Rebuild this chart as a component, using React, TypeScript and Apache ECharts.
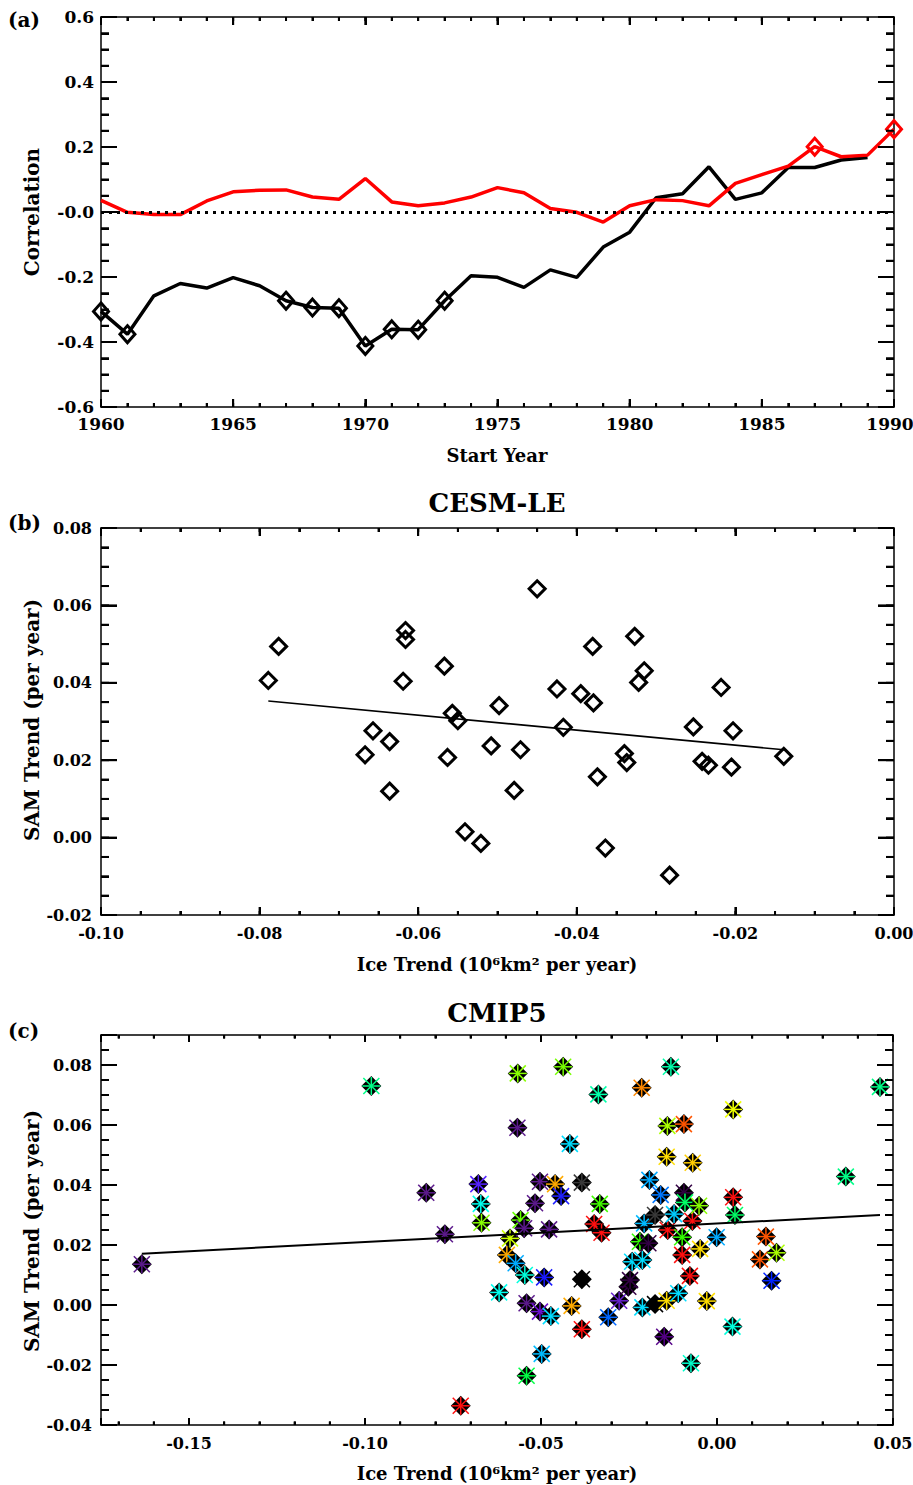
import React, { useEffect, useRef } from 'react';
import * as echarts from 'echarts';

// ---------- Panel (a): correlation vs start year ----------
const blackYears = [1960, 1961, 1962, 1963, 1964, 1965, 1966, 1967, 1968, 1969, 1970, 1971, 1972, 1973, 1974, 1975, 1976, 1977, 1978, 1979, 1980, 1981, 1982, 1983, 1984, 1985, 1986, 1987, 1988, 1989];
const blackCorr = [-0.306, -0.376, -0.258, -0.22, -0.234, -0.202, -0.227, -0.273, -0.294, -0.296, -0.412, -0.361, -0.362, -0.273, -0.196, -0.201, -0.232, -0.178, -0.201, -0.108, -0.062, 0.044, 0.056, 0.139, 0.039, 0.059, 0.137, 0.137, 0.16, 0.168];
const redYears = [1960, 1961, 1962, 1963, 1964, 1965, 1966, 1967, 1968, 1969, 1970, 1971, 1972, 1973, 1974, 1975, 1976, 1977, 1978, 1979, 1980, 1981, 1982, 1983, 1984, 1985, 1986, 1987, 1988, 1989, 1990];
const redCorr = [0.036, -0.001, -0.008, -0.008, 0.034, 0.062, 0.067, 0.068, 0.046, 0.039, 0.103, 0.031, 0.019, 0.028, 0.046, 0.075, 0.059, 0.011, -0.001, -0.031, 0.019, 0.038, 0.035, 0.019, 0.088, 0.115, 0.141, 0.201, 0.17, 0.175, 0.255];
const blackMarkedYears = [1960, 1961, 1967, 1968, 1969, 1970, 1971, 1972, 1973];
const redMarkedYears = [1987, 1990];
const yearTicks = [1960, 1965, 1970, 1975, 1980, 1985, 1990];
const yearTickLabels = ['1960', '1965', '1970', '1975', '1980', '1985', '1990'];
const corrTicks = [-0.6, -0.4, -0.2, 0, 0.2, 0.4, 0.6];
const corrTickLabels = ['-0.6', '-0.4', '-0.2', '-0.0', '0.2', '0.4', '0.6'];

// ---------- Panel (b): CESM-LE ----------
const cesmIce = [-0.0789, -0.0776, -0.0667, -0.0657, -0.0636, -0.0636, -0.0619, -0.0616, -0.0616, -0.0567, -0.0563, -0.0557, -0.055, -0.0541, -0.0521, -0.0508, -0.0498, -0.0479, -0.0471, -0.045, -0.0425, -0.0417, -0.0395, -0.038, -0.0379, -0.0374, -0.0364, -0.034, -0.0337, -0.0327, -0.0322, -0.0315, -0.0283, -0.0253, -0.0242, -0.0234, -0.0218, -0.0205, -0.0203, -0.0139];
const cesmSam = [0.0406, 0.0494, 0.0214, 0.0276, 0.0248, 0.012, 0.0404, 0.0535, 0.0512, 0.0443, 0.0207, 0.0321, 0.0302, 0.0015, -0.0015, 0.0237, 0.0341, 0.0122, 0.0227, 0.0643, 0.0384, 0.0285, 0.0372, 0.0494, 0.0348, 0.0157, -0.0027, 0.0217, 0.0194, 0.052, 0.0401, 0.0431, -0.0097, 0.0286, 0.0197, 0.0187, 0.0388, 0.0182, 0.0276, 0.021];
const cesmFitIce = [-0.0789, -0.0139];
const cesmFitSam = [0.0353, 0.0227];
const cesmIceTicks = [-0.1, -0.08, -0.06, -0.04, -0.02, 0];
const cesmIceTickLabels = ['-0.10', '-0.08', '-0.06', '-0.04', '-0.02', '0.00'];
const cesmSamTicks = [-0.02, 0, 0.02, 0.04, 0.06, 0.08];
const cesmSamTickLabels = ['-0.02', '0.00', '0.02', '0.04', '0.06', '0.08'];

// ---------- Panel (c): CMIP5 ----------
const cmipIce = [-0.1634, -0.0982, -0.0826, -0.0773, -0.0728, -0.0678, -0.0671, -0.0669, -0.0619, -0.0597, -0.0588, -0.0566, -0.0567, -0.0572, -0.0558, -0.0548, -0.0546, -0.0541, -0.0541, -0.0517, -0.0503, -0.0503, -0.0498, -0.0491, -0.0477, -0.0472, -0.046, -0.0443, -0.0437, -0.0418, -0.0413, -0.0384, -0.0384, -0.0384, -0.0349, -0.0337, -0.0333, -0.0328, -0.0309, -0.0278, -0.0252, -0.0247, -0.0241, -0.0214, -0.0207, -0.0219, -0.0212, -0.0212, -0.0195, -0.0192, -0.0176, -0.0176, -0.016, -0.015, -0.014, -0.0143, -0.0141, -0.0143, -0.0131, -0.0122, -0.011, -0.0094, -0.0091, -0.0099, -0.0099, -0.0094, -0.0077, -0.007, -0.0074, -0.0069, -0.0051, -0.0048, -0.0029, -0.0001, 0.0046, 0.0046, 0.0051, 0.0044, 0.0122, 0.0139, 0.0155, 0.0169, 0.0366, 0.0463];
const cmipSam = [0.0136, 0.073, 0.0374, 0.0236, -0.0336, 0.0403, 0.0337, 0.0274, 0.0042, 0.0167, 0.0222, 0.0772, 0.0591, 0.0139, 0.0283, 0.0256, 0.01, 0.0006, -0.0236, 0.0339, 0.0411, -0.0022, -0.0163, 0.0092, 0.0252, -0.0037, 0.0403, 0.0363, 0.0794, 0.0537, -0.0003, 0.0408, 0.0086, -0.0081, 0.027, 0.0702, 0.0337, 0.0241, -0.0041, 0.0014, 0.0061, 0.0083, 0.0144, 0.0724, 0.0272, 0.0211, -0.0008, 0.015, 0.0206, 0.0417, 0.03, 0.0003, 0.0367, -0.0106, 0.025, 0.0494, 0.0597, 0.0014, 0.0794, 0.0303, 0.0039, 0.0374, 0.0342, 0.0226, 0.0167, 0.0603, 0.0097, 0.028, -0.0194, 0.0474, 0.0331, 0.0187, 0.0013, 0.0226, 0.0652, 0.0359, 0.03, -0.0072, 0.0152, 0.0228, 0.0081, 0.0174, 0.0428, 0.0727];
const cmipColor = ['#5c1a8c', '#00ff88', '#5c1a8c', '#5c1a8c', '#ff1010', '#5522ff', '#00ffee', '#88ff00', '#00ffee', '#ffaa00', '#ccff00', '#88ff00', '#5c1a8c', '#00aaff', '#66ff00', '#5c1a8c', '#00ffdd', '#5c1a8c', '#00ff44', '#5c1a8c', '#5c1a8c', '#6a11cc', '#00bbff', '#1a1aff', '#5c1a8c', '#00ddff', '#ffaa00', '#2222ff', '#77ff00', '#00ddff', '#ffaa00', '#3a3a3a', '#000000', '#ff1010', '#ff1010', '#00ffaa', '#44ff00', '#ff1010', '#0066ff', '#6622cc', '#330044', '#330044', '#00ddff', '#ff8800', '#00bbff', '#33ff00', '#00ddff', '#00ddff', '#330044', '#00aaff', '#3a3a3a', '#000000', '#0077ff', '#550088', '#ff1010', '#ffdd00', '#aaff00', '#ffdd00', '#00ffaa', '#00ccff', '#00ddff', '#330044', '#00ff66', '#33ff00', '#ff1010', '#ff5500', '#ff1010', '#ff1010', '#00ffcc', '#ffcc00', '#88ff00', '#ffdd00', '#ffdd00', '#00aaff', '#eeff00', '#ff1010', '#00ff66', '#00ffdd', '#ff5500', '#ff5500', '#0022ff', '#aaff00', '#00ff88', '#00ff88'];
const cmipFitIce = [-0.1634, 0.0463];
const cmipFitSam = [0.0171, 0.03];
const cmipIceTicks = [-0.15, -0.1, -0.05, 0, 0.05];
const cmipIceTickLabels = ['-0.15', '-0.10', '-0.05', '0.00', '0.05'];
const cmipSamTicks = [-0.04, -0.02, 0, 0.02, 0.04, 0.06, 0.08];
const cmipSamTickLabels = ['-0.04', '-0.02', '0.00', '0.02', '0.04', '0.06', '0.08'];

// minor tick spacing per axis
const yearMinorStep = 1;
const corrMinorStep = 0.05;
const cesmIceMinorStep = 0.005;
const cesmSamMinorStep = 0.005;
const cmipIceMinorStep = 0.01;
const cmipSamMinorStep = 0.005;

const FONT = '"DejaVu Serif", "Liberation Serif", serif';
const INK = '#000';
const TW = 2;

function steps(from: number, to: number, step: number) {
  const out: number[] = [];
  const start = Math.ceil(from / step - 1e-9);
  for (let k = start; k * step <= to + 1e-9; k++) out.push(+(k * step).toFixed(6));
  return out;
}

function labelFrom(ticks: number[], labels: string[], lastPad = 0) {
  return (v: number) => {
    const i = ticks.findIndex((t) => Math.abs(t - v) < 1e-7);
    if (i < 0) return '';
    if (lastPad && i === ticks.length - 1) return '{last|' + labels[i] + '}';
    return labels[i];
  };
}

// Axis with native inward ticks.
function axis(o: any) {
  const showLabel = !!o.formatter;
  const a: any = {
    type: 'value',
    gridIndex: o.grid,
    position: o.pos,
    min: o.min,
    max: o.max,
    splitLine: { show: false },
    axisLine: { show: o.line !== false, onZero: false, lineStyle: { color: INK, width: 1.5 } },
    axisTick: o.tickLen ? { show: true, inside: true, length: o.tickLen, lineStyle: { color: INK, width: TW } } : { show: false },
    minorTick: o.minorSplit
      ? { show: true, splitNumber: o.minorSplit, length: o.minorLen, lineStyle: { color: INK, width: TW } }
      : { show: false },
    axisLabel: showLabel
      ? {
          show: true, margin: o.margin, fontFamily: FONT, fontWeight: 'bold', fontSize: o.fontSize, color: '#000',
          formatter: o.formatter,
          rich: { last: { fontFamily: FONT, fontWeight: 'bold', fontSize: o.fontSize, color: '#000', padding: [0, o.lastPad || 0, 0, 0] } },
        }
      : { show: false },
  };
  if (o.interval != null) a.interval = o.interval;
  if (o.minInterval != null) {
    a.minInterval = o.minInterval;
    a.maxInterval = o.maxInterval;
    a.splitNumber = o.splitNumber;
  }
  return a;
}

function text(x: number, y: number, s: string, size: number, align = 'center', rotation = 0) {
  return {
    type: 'text',
    x,
    y,
    rotation,
    style: {
      text: s,
      fontFamily: FONT,
      fontWeight: 'bold',
      fontSize: size,
      fill: '#000',
      align,
      verticalAlign: 'middle',
      textAlign: align,
      textVerticalAlign: 'middle',
    },
  };
}

export default function App() {
  const ref = useRef<HTMLDivElement>(null);
  useEffect(() => {
    if (!ref.current) return;
    const chart = echarts.init(ref.current, null, { renderer: 'svg' });
    const W = 793;
    const aX = [1960, 1990], aY = [-0.6, 0.6];
    const bX = [-0.1, 0], bY = [-0.02, 0.08];
    const cX = [-0.175, 0.05], cY = [-0.04, 0.09];
    const texts = [
      text(8, 20, '(a)', 20, 'left'),
      text(8, 523, '(b)', 20, 'left'),
      text(8, 1031, '(c)', 20, 'left'),
      text(497, 455, 'Start Year', 18),
      text(32, 212, 'Correlation', 20, 'center', Math.PI / 2),
      text(497, 503, 'CESM-LE', 26),
      text(32, 720, 'SAM Trend (per year)', 20, 'center', Math.PI / 2),
      text(497, 964, 'Ice Trend (10⁶km² per year)', 18),
      text(497, 1013, 'CMIP5', 26),
      text(32, 1231, 'SAM Trend (per year)', 20, 'center', Math.PI / 2),
      text(497, 1473, 'Ice Trend (10⁶km² per year)', 18),
    ];
    const option: any = {
      animation: false,
      backgroundColor: '#fff',
      grid: [
        { left: 101, top: 17, width: W, height: 390, outerBoundsMode: 'none', containLabel: false },
        { left: 101, top: 528, width: W, height: 387, outerBoundsMode: 'none', containLabel: false },
        { left: 101, top: 1035, width: 792, height: 390, outerBoundsMode: 'none', containLabel: false },
      ],
      xAxis: [
        axis({ grid: 0, pos: 'bottom', min: aX[0], max: aX[1], interval: 5, tickLen: 8, minorSplit: 5, minorLen: 4, margin: 8, fontSize: 17, lastPad: 8, formatter: labelFrom(yearTicks, yearTickLabels, 8) }),
        axis({ grid: 0, pos: 'top', min: aX[0], max: aX[1], interval: 5, tickLen: 8, minorSplit: 5, minorLen: 4 }),
        axis({ grid: 1, pos: 'bottom', min: bX[0], max: bX[1], interval: 0.02, tickLen: 8, minorSplit: 4, minorLen: 4, margin: 10, fontSize: 16, formatter: labelFrom(cesmIceTicks, cesmIceTickLabels) }),
        axis({ grid: 1, pos: 'top', min: bX[0], max: bX[1], interval: 0.02, tickLen: 8, minorSplit: 4, minorLen: 4 }),
        axis({ grid: 2, pos: 'bottom', min: cX[0], max: cX[1], minInterval: 0.05, maxInterval: 0.05, splitNumber: 5, tickLen: 7, margin: 10, fontSize: 16, formatter: labelFrom(cmipIceTicks, cmipIceTickLabels) }),
        axis({ grid: 2, pos: 'top', min: cX[0], max: cX[1], minInterval: 0.05, maxInterval: 0.05, splitNumber: 5, tickLen: 7 }),
        axis({ grid: 2, pos: 'bottom', min: cX[0], max: cX[1], minInterval: 0.01, maxInterval: 0.01, splitNumber: 20, tickLen: 3.5, line: false }),
        axis({ grid: 2, pos: 'top', min: cX[0], max: cX[1], minInterval: 0.01, maxInterval: 0.01, splitNumber: 20, tickLen: 3.5, line: false }),
      ],
      yAxis: [
        axis({ grid: 0, pos: 'left', min: aY[0], max: aY[1], interval: 0.2, tickLen: 16, minorSplit: 4, minorLen: 8, margin: 7, fontSize: 17, formatter: labelFrom(corrTicks, corrTickLabels) }),
        axis({ grid: 0, pos: 'right', min: aY[0], max: aY[1], interval: 0.2, tickLen: 16, minorSplit: 4, minorLen: 8 }),
        axis({ grid: 1, pos: 'left', min: bY[0], max: bY[1], interval: 0.02, tickLen: 16, minorSplit: 4, minorLen: 8, margin: 9, fontSize: 16, formatter: labelFrom(cesmSamTicks, cesmSamTickLabels) }),
        axis({ grid: 1, pos: 'right', min: bY[0], max: bY[1], interval: 0.02, tickLen: 16, minorSplit: 4, minorLen: 8 }),
        axis({ grid: 2, pos: 'left', min: cY[0], max: cY[1], interval: 0.02, tickLen: 16, margin: 9, fontSize: 16, formatter: labelFrom(cmipSamTicks, cmipSamTickLabels) }),
        axis({ grid: 2, pos: 'right', min: cY[0], max: cY[1], interval: 0.02, tickLen: 16 }),
        axis({ grid: 2, pos: 'left', min: cY[0], max: cY[1], interval: 0.005, tickLen: 8, line: false }),
        axis({ grid: 2, pos: 'right', min: cY[0], max: cY[1], interval: 0.005, tickLen: 8, line: false }),
      ],
      series: [
        {
          type: 'line', xAxisIndex: 0, yAxisIndex: 0,
          data: blackYears.map((y, i) => [y, blackCorr[i]]),
          symbol: 'none', lineStyle: { color: '#000', width: 3.5 },
        },
        {
          type: 'line', xAxisIndex: 0, yAxisIndex: 0,
          data: redYears.map((y, i) => [y, redCorr[i]]),
          symbol: 'none', lineStyle: { color: '#ff0000', width: 3.5 },
          markLine: {
            silent: true, symbol: 'none', label: { show: false },
            lineStyle: { color: '#000', width: 3, type: [3, 5] },
            data: [{ yAxis: 0 }],
          },
        },
        {
          type: 'scatter', xAxisIndex: 0, yAxisIndex: 0,
          data: blackMarkedYears.map((y) => [y, blackCorr[blackYears.indexOf(y)]]),
          symbol: 'diamond', symbolSize: [15, 17],
          itemStyle: { color: 'rgba(0,0,0,0)', borderColor: '#000', borderWidth: 3, opacity: 1 },
          z: 4,
        },
        {
          type: 'scatter', xAxisIndex: 0, yAxisIndex: 0,
          data: redMarkedYears.map((y) => [y, redCorr[redYears.indexOf(y)]]),
          symbol: 'diamond', symbolSize: [15, 17],
          itemStyle: { color: 'rgba(0,0,0,0)', borderColor: '#ff0000', borderWidth: 3, opacity: 1 },
          z: 4,
        },
        {
          type: 'scatter', xAxisIndex: 2, yAxisIndex: 2,
          data: cesmIce.map((x, i) => [x, cesmSam[i]]),
          symbol: 'diamond', symbolSize: [16, 16],
          itemStyle: { color: 'rgba(0,0,0,0)', borderColor: '#000', borderWidth: 3, opacity: 1 },
        },
        {
          type: 'line', xAxisIndex: 2, yAxisIndex: 2,
          data: cesmFitIce.map((x, i) => [x, cesmFitSam[i]]),
          symbol: 'none', lineStyle: { color: '#000', width: 1.6 },
        },
        {
          type: 'custom', xAxisIndex: 4, yAxisIndex: 4,
          data: cmipIce.map((x, i) => [x, cmipSam[i]]),
          renderItem: (params: any, api: any) => {
            const p = api.coord([api.value(0), api.value(1)]);
            const c = cmipColor[params.dataIndex];
            const r = 10;
            const a = 9;
            const d = 8;
            const ls = (x1: number, y1: number, x2: number, y2: number) => ({
              type: 'line',
              shape: { x1: p[0] + x1, y1: p[1] + y1, x2: p[0] + x2, y2: p[1] + y2 },
              style: { stroke: c, lineWidth: 1.5 },
            });
            return {
              type: 'group',
              children: [
                {
                  type: 'polygon',
                  shape: { points: [[p[0], p[1] - r], [p[0] + r, p[1]], [p[0], p[1] + r], [p[0] - r, p[1]]] },
                  style: { fill: '#000' },
                },
                ls(-a, 0, a, 0),
                ls(0, -a, 0, a),
                ls(-d, -d, d, d),
                ls(-d, d, d, -d),
              ],
            };
          },
        },
        {
          type: 'line', xAxisIndex: 4, yAxisIndex: 4,
          data: cmipFitIce.map((x, i) => [x, cmipFitSam[i]]),
          symbol: 'none', lineStyle: { color: '#000', width: 2 }, z: 5,
        },
      ],
      graphic: texts,
    };
    chart.setOption(option);

    // Extra inward ticks on all four sides, placed with the chart's own axis scales.
    const tickEls: any[] = [];
    try {
      const panels = [
        { xi: 0, xr: aX, yr: aY, xMaj: yearTicks, xMin: steps(aX[0], aX[1], yearMinorStep), yMaj: corrTicks, yMin: steps(aY[0], aY[1], corrMinorStep), len: [8, 4, 16, 8] },
        { xi: 2, xr: bX, yr: bY, xMaj: cesmIceTicks, xMin: steps(bX[0], bX[1], cesmIceMinorStep), yMaj: cesmSamTicks, yMin: steps(bY[0], bY[1], cesmSamMinorStep), len: [8, 4, 16, 8] },
        { xi: 4, xr: cX, yr: cY, xMaj: cmipIceTicks, xMin: steps(cX[0], cX[1], cmipIceMinorStep), yMaj: cmipSamTicks, yMin: steps(cY[0], cY[1], cmipSamMinorStep), len: [7, 3.5, 16, 8] },
      ];
      const st = { stroke: INK, lineWidth: TW };
      panels.forEach((pn) => {
        const X = (v: number) => chart.convertToPixel({ xAxisIndex: pn.xi } as any, v) as unknown as number;
        const Y = (v: number) => chart.convertToPixel({ yAxisIndex: pn.xi } as any, v) as unknown as number;
        const top = Y(pn.yr[1]), bottom = Y(pn.yr[0]), left = X(pn.xr[0]), right = X(pn.xr[1]);
        if (![top, bottom, left, right].every((n) => typeof n === 'number' && isFinite(n))) return;
        const xt = (vals: number[], L: number) => vals.forEach((v) => {
          const x = X(v);
          tickEls.push({ type: 'line', silent: true, z: 50, shape: { x1: x, y1: bottom, x2: x, y2: bottom - L }, style: st });
          tickEls.push({ type: 'line', silent: true, z: 50, shape: { x1: x, y1: top, x2: x, y2: top + L }, style: st });
        });
        const yt = (vals: number[], L: number) => vals.forEach((v) => {
          const y = Y(v);
          tickEls.push({ type: 'line', silent: true, z: 50, shape: { x1: left, y1: y, x2: left + L, y2: y }, style: st });
          tickEls.push({ type: 'line', silent: true, z: 50, shape: { x1: right, y1: y, x2: right - L, y2: y }, style: st });
        });
        xt(pn.xMin, pn.len[1]);
        xt(pn.xMaj, pn.len[0]);
        yt(pn.yMin, pn.len[3]);
        yt(pn.yMaj, pn.len[2]);
      });
    } catch (e) {
      // keep the chart without the extra ticks
    }
    if (tickEls.length) chart.setOption({ graphic: [...texts, ...tickEls] });
    return () => chart.dispose();
  }, []);
  return <div ref={ref} style={{ position: 'absolute', left: 0, top: 0, width: 913, height: 1485 }} />;
}
